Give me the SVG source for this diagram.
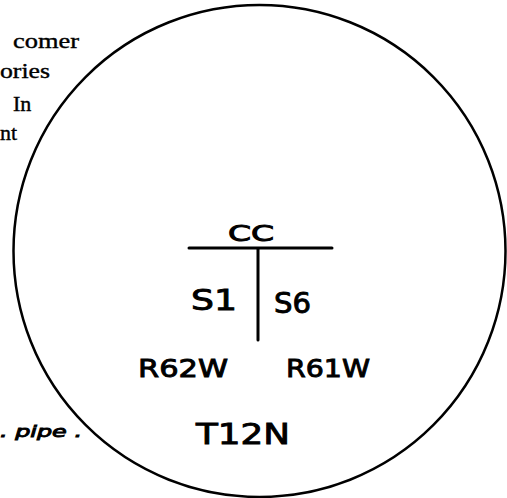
<svg xmlns="http://www.w3.org/2000/svg" width="507" height="498" viewBox="0 0 507 498">
<style>
.prn{font-family:"Liberation Serif",serif;font-size:22px;fill:#000;stroke:#000;stroke-width:0.4}
.hw{font-family:"DejaVu Sans","Liberation Sans",sans-serif;fill:#000;stroke:#000;stroke-width:0.9}
.ln{stroke:#000;fill:none;stroke-linecap:round}
</style>
<rect width="507" height="498" fill="#fff"/>
<g id="margin-text">
<text class="prn" x="13" y="48" textLength="66" lengthAdjust="spacingAndGlyphs">comer</text>
<text class="prn" x="0" y="78" textLength="50" lengthAdjust="spacingAndGlyphs">ories</text>
<text class="prn" x="13" y="111">In</text>
<text class="prn" x="0" y="140">nt</text>
<text class="hw" x="0" y="437" font-size="16" font-style="italic" textLength="82" lengthAdjust="spacingAndGlyphs">. pipe .</text>
</g>
<g id="circle">
<circle class="ln" cx="259.5" cy="251" r="246" stroke-width="2.5"/>
</g>
<g id="connectors">
<line class="ln" x1="189" y1="248" x2="332" y2="248" stroke-width="3"/>
<line class="ln" x1="258" y1="249" x2="258" y2="340" stroke-width="3"/>
</g>
<g id="CC"><text class="hw" x="228" y="241" font-size="21" textLength="46" lengthAdjust="spacingAndGlyphs">CC</text></g>
<g id="S1"><text class="hw" x="191" y="310" font-size="28" textLength="46" lengthAdjust="spacingAndGlyphs">S1</text></g>
<g id="S6"><text class="hw" x="274" y="313" font-size="28" textLength="37" lengthAdjust="spacingAndGlyphs">S6</text></g>
<g id="R62W"><text class="hw" x="138" y="377" font-size="24" textLength="90" lengthAdjust="spacingAndGlyphs">R62W</text></g>
<g id="R61W"><text class="hw" x="286" y="377" font-size="24" textLength="84" lengthAdjust="spacingAndGlyphs">R61W</text></g>
<g id="T12N"><text class="hw" x="196" y="444" font-size="28" textLength="94" lengthAdjust="spacingAndGlyphs">T12N</text></g>
</svg>
